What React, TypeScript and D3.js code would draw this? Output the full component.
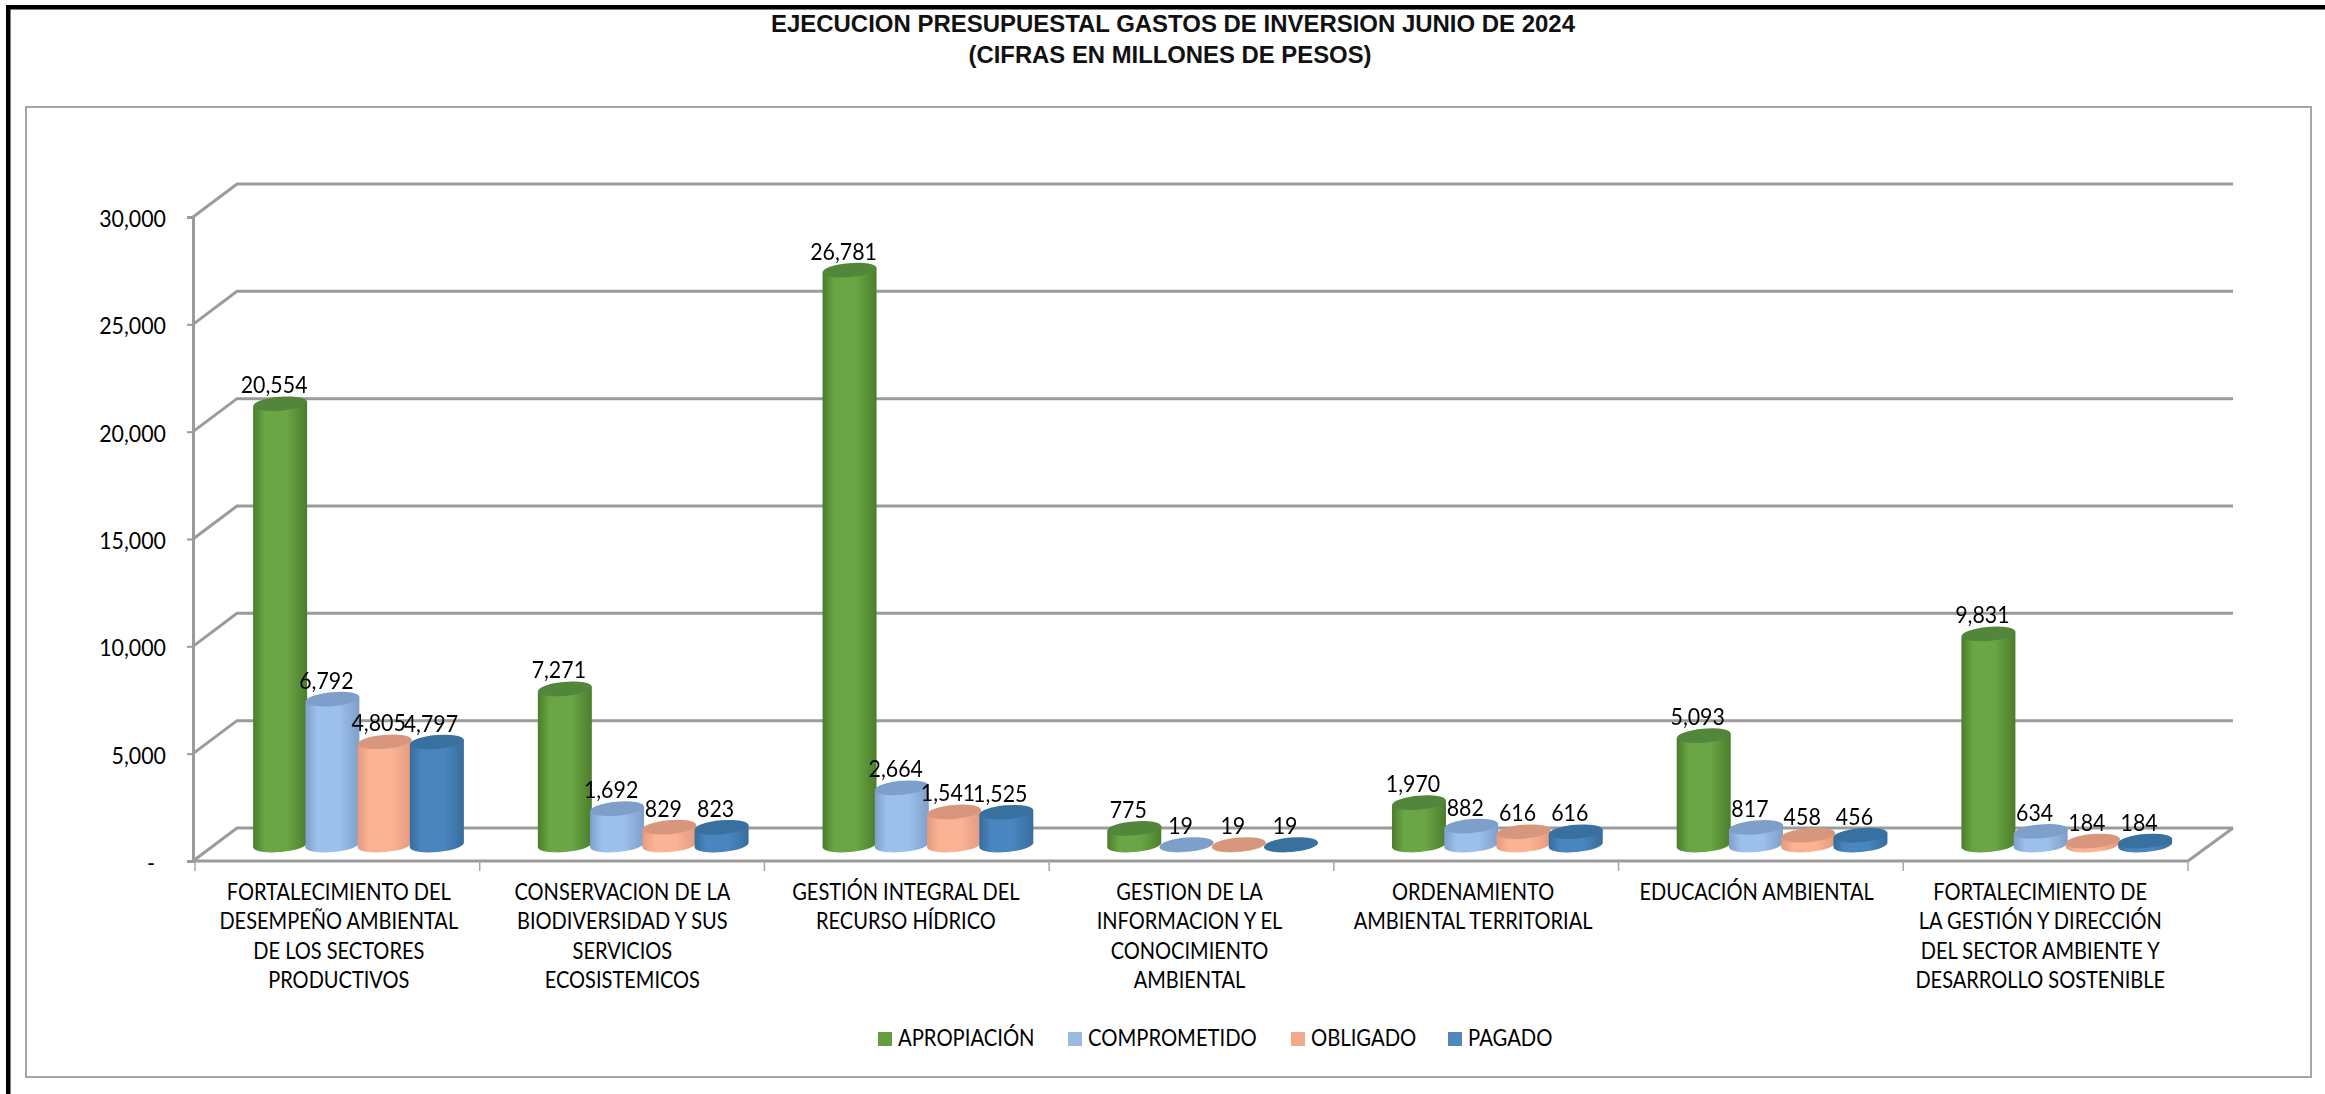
import React, { useRef, useEffect } from "react";
import * as d3 from "d3";

const categories = ["FD", "CB", "GH", "GI", "OT", "EA", "FG"];
const categoryLines = [
  ["FORTALECIMIENTO DEL", "DESEMPEÑO AMBIENTAL", "DE LOS SECTORES", "PRODUCTIVOS"],
  ["CONSERVACION DE LA", "BIODIVERSIDAD Y SUS", "SERVICIOS", "ECOSISTEMICOS"],
  ["GESTIÓN INTEGRAL DEL", "RECURSO HÍDRICO"],
  ["GESTION DE LA", "INFORMACION Y EL", "CONOCIMIENTO", "AMBIENTAL"],
  ["ORDENAMIENTO", "AMBIENTAL TERRITORIAL"],
  ["EDUCACIÓN AMBIENTAL"],
  ["FORTALECIMIENTO DE", "LA GESTIÓN Y DIRECCIÓN", "DEL SECTOR AMBIENTE Y", "DESARROLLO SOSTENIBLE"],
];

const seriesNames = ["APROPIACIÓN", "COMPROMETIDO", "OBLIGADO", "PAGADO"];
const apropiacion = [20554, 7271, 26781, 775, 1970, 5093, 9831];
const comprometido = [6792, 1692, 2664, 19, 882, 817, 634];
const obligado = [4805, 829, 1541, 19, 616, 458, 184];
const pagado = [4797, 823, 1525, 19, 616, 456, 184];
const seriesValues = [apropiacion, comprometido, obligado, pagado];

const yTicks = [0, 5000, 10000, 15000, 20000, 25000, 30000];

const legendColors = ["#659c3e", "#98b9e0", "#f3a98c", "#5088bb"];
const sideColors = ["#4c7d2b", "#7f9fc9", "#e39a7d", "#386c9c"];
const midColors = ["#6aa645", "#9cc0ec", "#fbb395", "#4a86bf"];
const topColors = ["#51863a", "#7f9fcb", "#d8967c", "#37709f"];

const legendSquareX = [878, 1068, 1291, 1448];

const FONT = "Lato, sans-serif";
const FONT_SIZE = 22.5;
const LETTER_SCALE = 0.89;
const DIGIT_SCALE = 0.95;

const App: React.FC = () => {
  const svgRef = useRef<SVGSVGElement | null>(null);

  useEffect(() => {
    if (!svgRef.current) return;
    const svg = d3.select(svgRef.current);
    svg.selectAll("*").remove();

    const width = 2325;
    const height = 1094;
    const depthX = 44;
    const depthY = 33;
    const baseY = 845;
    const rx = 27;
    const ry = 7;
    const tilt = 2.5;

    const y = d3.scaleLinear().domain([0, 30000]).range([861, 217]);
    const x = d3.scaleBand<string>().domain(categories).range([195, 2188]);
    const xLabel = d3.scaleBand<string>().domain(categories).range([197, 2182]);
    const xSeries = d3.scaleBand<string>().domain(seriesNames).range([59, 268]);
    const barY = (v: number) => baseY - (y(0) - y(v));

    // Marcos
    svg.append("rect").attr("width", width).attr("height", height).attr("fill", "white");
    svg
      .append("rect")
      .attr("x", 26)
      .attr("y", 107)
      .attr("width", 2285)
      .attr("height", 970)
      .attr("fill", "white")
      .attr("stroke", "#a6a6a6")
      .attr("stroke-width", 2);
    svg.append("rect").attr("x", 6).attr("y", 5).attr("width", 2319).attr("height", 4.5).attr("fill", "black");
    svg.append("rect").attr("x", 6).attr("y", 5).attr("width", 4.5).attr("height", 1089).attr("fill", "black");

    // Titulo
    const title = svg
      .append("g")
      .attr("font-family", "'Liberation Sans', Arial, sans-serif")
      .attr("font-weight", "bold")
      .attr("font-size", 23.5)
      .attr("text-anchor", "middle")
      .attr("fill", "#111");
    title
      .append("text")
      .attr("x", 1173)
      .attr("y", 32)
      .attr("textLength", 804)
      .attr("lengthAdjust", "spacingAndGlyphs")
      .text("EJECUCION PRESUPUESTAL GASTOS DE INVERSION JUNIO DE 2024");
    title
      .append("text")
      .attr("x", 1170)
      .attr("y", 63)
      .attr("textLength", 403)
      .attr("lengthAdjust", "spacingAndGlyphs")
      .text("(CIFRAS EN MILLONES DE PESOS)");

    // Gradientes y difuminado de los cilindros
    const defs = svg.append("defs");
    seriesNames.forEach((_, i) => {
      const grad = defs.append("linearGradient").attr("id", `cyl-${i}`).attr("x1", 0).attr("x2", 1).attr("y1", 0).attr("y2", 0);
      grad.append("stop").attr("offset", "0%").attr("stop-color", sideColors[i]);
      grad.append("stop").attr("offset", "22%").attr("stop-color", midColors[i]);
      grad.append("stop").attr("offset", "62%").attr("stop-color", midColors[i]);
      grad.append("stop").attr("offset", "100%").attr("stop-color", sideColors[i]);
    });
    defs
      .append("filter")
      .attr("id", "soft")
      .attr("x", "-5%")
      .attr("y", "-5%")
      .attr("width", "110%")
      .attr("height", "110%")
      .append("feGaussianBlur")
      .attr("stdDeviation", 0.7);

    // Rejilla
    const grid = svg.append("g").attr("fill", "none").attr("stroke", "#9b9b9b").attr("stroke-width", 3);
    yTicks.forEach((t) => {
      grid
        .append("path")
        .attr("d", `M193,${y(t)}L${193 + depthX},${y(t) - depthY}H2233`);
    });
    grid.append("path").attr("d", `M2233,${y(0) - depthY}L2188,${y(0)}H193`);

    // Eje Y
    const yAxis = svg
      .append("g")
      .attr("transform", "translate(193,0)")
      .call(
        d3
          .axisLeft(y)
          .tickValues(yTicks)
          .tickSize(6)
          .tickFormat((d) => (+d === 0 ? "-" : d3.format(",")(+d)))
      );
    yAxis.select(".domain").attr("stroke", "#9b9b9b").attr("stroke-width", 3);
    yAxis.selectAll(".tick line").attr("stroke", "#9b9b9b").attr("stroke-width", 2);
    yAxis
      .selectAll<SVGTextElement, number>(".tick text")
      .attr("font-family", FONT)
      .attr("font-size", FONT_SIZE)
      .attr("fill", "#000")
      .attr("x", null)
      .attr("dy", "0.42em")
      .attr("transform", (d) => `translate(${d === 0 ? -38 : -27},0) scale(${DIGIT_SCALE},1)`);

    // Eje X
    const xTicks = svg.append("g").attr("stroke", "#a6a6a6").attr("stroke-width", 1.5);
    [...categories.map((c) => x(c)!), 2188].forEach((px) => {
      xTicks.append("line").attr("x1", px).attr("x2", px).attr("y1", y(0)).attr("y2", 871);
    });
    const xLabels = svg
      .append("g")
      .attr("font-family", FONT)
      .attr("font-size", FONT_SIZE)
      .attr("text-anchor", "middle")
      .attr("fill", "#000");
    categoryLines.forEach((lines, i) => {
      lines.forEach((line, j) => {
        const px = xLabel(categories[i])! + xLabel.bandwidth() / 2;
        xLabels
          .append("text")
          .attr("transform", `translate(${px},${900 + j * 29.3}) scale(${LETTER_SCALE},1)`)
          .text(line);
      });
    });

    // Cilindros
    const bars = svg.append("g").attr("filter", "url(#soft)");
    categories.forEach((c, ci) => {
      seriesNames.forEach((s, si) => {
        const v = seriesValues[si][ci];
        const cx = x(c)! + xSeries(s)! + xSeries.bandwidth() / 2;
        const yTop = barY(v);
        bars
          .append("path")
          .attr(
            "d",
            `M${cx - rx},${yTop + tilt}V${baseY + tilt}A${rx} ${ry} -5 0 0 ${cx + rx},${baseY - tilt}V${yTop - tilt}Z`
          )
          .attr("fill", `url(#cyl-${si})`);
        bars
          .append("ellipse")
          .attr("transform", `translate(${cx},${yTop}) rotate(-5)`)
          .attr("rx", rx)
          .attr("ry", ry)
          .attr("fill", topColors[si]);
      });
    });

    // Etiquetas de datos
    const dataLabels = svg
      .append("g")
      .attr("font-family", FONT)
      .attr("font-size", FONT_SIZE)
      .attr("text-anchor", "middle")
      .attr("fill", "#000");
    categories.forEach((c, ci) => {
      seriesNames.forEach((s, si) => {
        const v = seriesValues[si][ci];
        const px = x(c)! + xSeries(s)! + xSeries.bandwidth() / 2 - 6;
        dataLabels
          .append("text")
          .attr("transform", `translate(${px},${barY(v) - 10.5}) scale(${DIGIT_SCALE},1)`)
          .text(d3.format(",")(v));
      });
    });

    // Leyenda
    const legend = svg.append("g").attr("font-family", FONT).attr("font-size", FONT_SIZE).attr("fill", "#000");
    seriesNames.forEach((s, i) => {
      legend
        .append("rect")
        .attr("x", legendSquareX[i])
        .attr("y", 1032)
        .attr("width", 14)
        .attr("height", 14)
        .attr("fill", legendColors[i]);
      legend
        .append("text")
        .attr("transform", `translate(${legendSquareX[i] + 20},1046) scale(0.9,1)`)
        .text(s);
    });
  }, []);

  return (
    <svg
      ref={svgRef}
      width={2325}
      height={1094}
      style={{ position: "absolute", left: 0, top: 0, display: "block" }}
    ></svg>
  );
};

export default App;
